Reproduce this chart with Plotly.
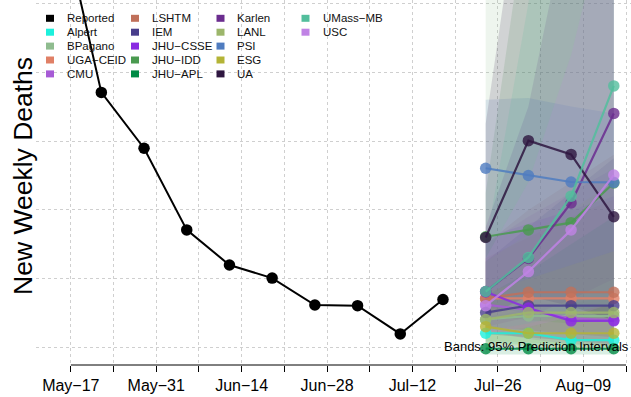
import plotly.graph_objects as go
import pandas as pd

# ---------------- data ----------------
reported_dates = ["2021-05-15", "2021-05-22", "2021-05-29", "2021-06-05", "2021-06-12",
                  "2021-06-19", "2021-06-26", "2021-07-03", "2021-07-10", "2021-07-17"]
reported_values = [1285, 741, 579, 342, 240, 202, 124, 122, 40, 140]

forecast_dates = ["2021-07-24", "2021-07-31", "2021-08-07", "2021-08-14"]

model_names = ["Alpert", "BPagano", "UGA\u2212CEID", "CMU", "LSHTM", "IEM", "JHU\u2212CSSE",
               "JHU\u2212IDD", "JHU\u2212APL", "Karlen", "LANL", "PSI", "ESG", "UA",
               "UMass\u2212MB", "USC"]
model_colors = ["#1cf0dc", "#8fbc8f", "#e08066", "#a75bd6", "#c0705a", "#483d8b", "#8a2be2",
                "#4a9a50", "#008b45", "#6b2d8f", "#9cb66b", "#4f7cc0", "#b4b436", "#2e1640",
                "#52be9c", "#c083e5"]

alpert_point = [42, 42, 22, 22]
alpert_lo = [15, 8, 4, 0]
alpert_hi = [90, 110, 130, 150]

bpagano_point = [82, 92, 92, 92]
bpagano_lo = [0, 0, 0, 0]
bpagano_hi = [1150, 1800, 2200, 2600]

ugaceid_point = [143, 143, 143, 143]
ugaceid_lo = [60, 50, 40, 30]
ugaceid_hi = [260, 320, 380, 430]

cmu_point = [125, 110, 85, 80]
cmu_lo = [40, 30, 20, 10]
cmu_hi = [300, 380, 450, 520]

lshtm_point = [143, 161, 161, 161]
lshtm_lo = [60, 50, 40, 30]
lshtm_hi = [300, 400, 480, 560]

iem_point = [102, 122, 122, 122]
iem_lo = [40, 30, 20, 10]
iem_hi = [250, 350, 450, 550]

jhucsse_point = [162, 115, 78, 78]
jhucsse_lo = [50, 25, 10, 5]
jhucsse_hi = [320, 360, 400, 440]

jhuidd_point = [322, 342, 363, 478]
jhuidd_lo = [90, 80, 70, 80]
jhuidd_hi = [450, 1300, 1900, 2400]

jhuapl_point = [-3, -3, -3, -3]
jhuapl_lo = [-20, -20, -20, -20]
jhuapl_hi = [150, 220, 300, 380]

karlen_point = [163, 259, 420, 680]
karlen_lo = [60, 90, 140, 200]
karlen_hi = [350, 700, 1300, 2000]

lanl_point = [82, 102, 102, 102]
lanl_lo = [20, 15, 10, 5]
lanl_hi = [250, 330, 400, 480]

psi_point = [521, 500, 481, 480]
psi_lo = [120, 100, 90, 80]
psi_hi = [720, 725, 700, 680]

esg_point = [61, 42, 42, 42]
esg_lo = [10, 5, 0, 0]
esg_hi = [160, 200, 240, 280]

ua_point = [320, 601, 561, 380]
ua_lo = [90, 150, 120, 80]
ua_hi = [650, 1500, 1500, 1100]

umassmb_point = [163, 262, 440, 760]
umassmb_lo = [50, 70, 100, 130]
umassmb_hi = [300, 1000, 1800, 2600]

usc_point = [122, 221, 342, 501]
usc_lo = [40, 60, 90, 130]
usc_hi = [260, 480, 850, 1350]

model_points = [alpert_point, bpagano_point, ugaceid_point, cmu_point, lshtm_point, iem_point,
                jhucsse_point, jhuidd_point, jhuapl_point, karlen_point, lanl_point, psi_point,
                esg_point, ua_point, umassmb_point, usc_point]
model_los = [alpert_lo, bpagano_lo, ugaceid_lo, cmu_lo, lshtm_lo, iem_lo, jhucsse_lo, jhuidd_lo,
             jhuapl_lo, karlen_lo, lanl_lo, psi_lo, esg_lo, ua_lo, umassmb_lo, usc_lo]
model_his = [alpert_hi, bpagano_hi, ugaceid_hi, cmu_hi, lshtm_hi, iem_hi, jhucsse_hi, jhuidd_hi,
             jhuapl_hi, karlen_hi, lanl_hi, psi_hi, esg_hi, ua_hi, umassmb_hi, usc_hi]

tick_dates = pd.date_range("2021-05-17", "2021-08-16", freq="7D")
tick_labels = ["May\u221217", "", "May\u221231", "", "Jun\u221214", "", "Jun\u221228", "",
               "Jul\u221212", "", "Jul\u221226", "", "Aug\u221209", ""]
y_grid = [0, 200, 400, 600, 800, 1000]


def rgba(hex_color, a):
    h = hex_color.lstrip("#")
    r, g, b = int(h[0:2], 16), int(h[2:4], 16), int(h[4:6], 16)
    return f"rgba({r},{g},{b},{a})"


# ---------------- figure ----------------
W, H = 631, 397
ML, MR, MT, MB = 36, 0, 0, 32
PW, PH = W - ML - MR, H - MT - MB
FONT = "Liberation Sans, Arial, sans-serif"

fig = go.Figure()

# prediction bands
for name, col, lo, hi in zip(model_names, model_colors, model_los, model_his):
    fig.add_trace(go.Scatter(
        x=forecast_dates + forecast_dates[::-1],
        y=hi + lo[::-1],
        fill="toself", fillcolor=rgba(col, 0.15),
        line=dict(width=0), mode="lines", hoverinfo="skip", showlegend=False))

# reported
fig.add_trace(go.Scatter(
    x=reported_dates, y=reported_values, mode="lines+markers", name="Reported",
    line=dict(color="black", width=2), marker=dict(color="black", size=11.5),
    showlegend=False))

# forecasts
for name, col, pts in zip(model_names, model_colors, model_points):
    fig.add_trace(go.Scatter(
        x=forecast_dates, y=pts, mode="lines+markers", name=name,
        line=dict(color=rgba(col, 0.85), width=2.2),
        marker=dict(color=rgba(col, 0.8), size=11.5),
        showlegend=False))

# ---------------- manual legend (R-style, column-major) ----------------
legend_names = ["Reported"] + model_names
legend_colors = ["#000000"] + model_colors
col_text_x = [65, 150, 235.5, 320.5]
row_y0, row_step = 18.3, 13.9

annotations = []
shapes = []
for i, (nm, col) in enumerate(zip(legend_names, legend_colors)):
    c, r = i // 5, i % 5
    tx = col_text_x[c]
    ty = row_y0 + r * row_step
    cx = tx - 15
    shapes.append(dict(type="rect", xref="paper", yref="paper",
                       x0=(cx - 4 - ML) / PW, x1=(cx + 4 - ML) / PW,
                       y0=1 - (ty + 3.5) / PH, y1=1 - (ty - 3.5) / PH,
                       fillcolor=col, line=dict(width=0), layer="above"))
    annotations.append(dict(text=nm, xref="paper", yref="paper",
                            x=(tx - ML) / PW, y=1 - ty / PH,
                            xanchor="left", yanchor="middle", showarrow=False,
                            font=dict(size=11.5, color="#111111", family=FONT)))

# y-axis title
annotations.append(dict(text="New Weekly Deaths", textangle=-90, xref="paper", yref="paper",
                        x=(23 - ML) / PW, y=1 - 176 / PH, xanchor="center", yanchor="middle",
                        showarrow=False, font=dict(size=26.5, color="black", family=FONT)))
# bands note
annotations.append(dict(text="Bands: 95% Prediction Intervals", xref="paper", yref="paper",
                        x=1.0, y=1 - 346 / PH, xanchor="right", yanchor="middle",
                        showarrow=False, font=dict(size=13, color="black", family=FONT)))

# R-style axis line between first and last tick
shapes.append(dict(type="line", xref="x", yref="paper",
                   x0=tick_dates[0], x1=tick_dates[-1], y0=0, y1=0,
                   line=dict(color="black", width=1)))

fig.update_layout(
    width=W, height=H,
    margin=dict(l=ML, r=MR, t=MT, b=MB, pad=0),
    paper_bgcolor="white", plot_bgcolor="white",
    showlegend=False,
    font=dict(family=FONT, color="black"),
    annotations=annotations, shapes=shapes,
    xaxis=dict(
        type="date", range=["2021-05-11 07:00", "2021-08-16 19:40"],
        tickmode="array", tickvals=tick_dates, ticktext=tick_labels,
        ticks="outside", ticklen=6, tickwidth=1, tickcolor="black",
        tickfont=dict(size=16, color="black", family=FONT),
        showgrid=True, gridcolor="#cfcfcf", gridwidth=1, griddash="dot",
        showline=False, zeroline=False),
    yaxis=dict(
        range=[-50.2, 1009.3], tickmode="array", tickvals=y_grid,
        showticklabels=False, ticks="",
        showgrid=True, gridcolor="#cfcfcf", gridwidth=1, griddash="dot",
        showline=False, zeroline=False),
)

fig.write_html("out.html", config={"displayModeBar": False},
               post_script="document.body.style.margin='0px';document.body.style.overflow='hidden';")
